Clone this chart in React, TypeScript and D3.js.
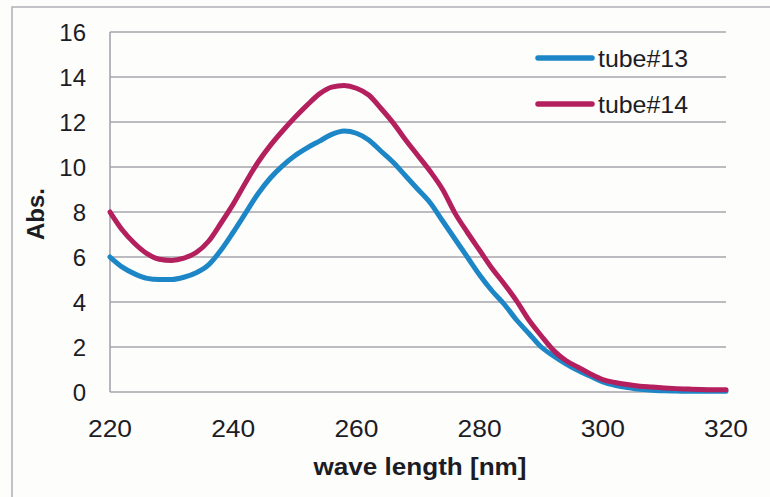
import React from "react";
import * as d3 from "d3";

// Wavelength grid (nm) and absorbance readings for each tube
const wavelengths = [
  220, 222, 224, 226, 228, 230, 232, 234, 236, 238, 240, 242, 244, 246, 248, 250,
  252, 254, 256, 258, 260, 262, 264, 266, 268, 270, 272, 274, 276, 278, 280, 282,
  284, 286, 288, 290, 292, 294, 296, 298, 300, 302, 304, 306, 308, 310, 312, 314,
  316, 318, 320,
];

const tube13 = [
  6.0, 5.55, 5.25, 5.05, 5.0, 5.0, 5.1, 5.3, 5.65, 6.3, 7.1, 7.95, 8.8, 9.5, 10.05, 10.5,
  10.85, 11.15, 11.45, 11.6, 11.5, 11.2, 10.7, 10.2, 9.6, 9.0, 8.4, 7.6, 6.8, 6.0, 5.2, 4.5,
  3.9, 3.2, 2.6, 2.0, 1.6, 1.25, 0.95, 0.7, 0.45, 0.3, 0.2, 0.12, 0.08, 0.05, 0.04, 0.03,
  0.03, 0.03, 0.03,
];

const tube14 = [
  8.0, 7.2, 6.6, 6.15, 5.9, 5.85, 5.95, 6.2, 6.7, 7.5, 8.35, 9.3, 10.2, 10.95, 11.6, 12.2,
  12.75, 13.25, 13.55, 13.62, 13.5, 13.2, 12.6, 11.95, 11.2, 10.5, 9.8, 9.0, 7.95, 7.1, 6.3, 5.5,
  4.8, 4.05, 3.2, 2.5, 1.85, 1.4, 1.1, 0.8, 0.55, 0.42, 0.33, 0.26, 0.22, 0.18, 0.15, 0.13,
  0.11, 0.1, 0.1,
];

const xTicks = [220, 240, 260, 280, 300, 320];
const yTicks = [0, 2, 4, 6, 8, 10, 12, 14, 16];

const seriesNames = ["tube#13", "tube#14"];
const seriesColors = ["#1d86c6", "#b41f5d"];

const W = 770;
const H = 497;
const plot = { left: 110, right: 726, top: 32, bottom: 392 };
const FONT = "'Liberation Sans', Arial, sans-serif";
const TEXT = "#1c1c24";

export default function App() {
  const x = d3.scaleLinear().domain([220, 320]).range([plot.left, plot.right]);
  const y = d3.scaleLinear().domain([0, 16]).range([plot.bottom, plot.top]);

  const line = d3
    .line<number>()
    .x((_, i) => x(wavelengths[i]))
    .y((d) => y(d))
    .curve(d3.curveMonotoneX);

  const series = [tube13, tube14];
  const gridColor = "#a4a4ac";

  return (
    <svg
      width={W}
      height={H}
      style={{ position: "absolute", left: 0, top: 0, background: "#fdfdfb" }}
    >
      {/* chart frame */}
      <rect x={12} y={7} width={820} height={520} fill="none" stroke="#b0b0b6" strokeWidth={1.5} />

      {/* horizontal gridlines */}
      {yTicks.map((t) => (
        <line
          key={t}
          x1={plot.left}
          x2={plot.right}
          y1={y(t)}
          y2={y(t)}
          stroke={gridColor}
          strokeWidth={1.6}
        />
      ))}
      {/* left axis */}
      <line x1={plot.left} x2={plot.left} y1={plot.top} y2={plot.bottom} stroke={gridColor} strokeWidth={1.6} />

      {/* y tick labels */}
      {yTicks.map((t) => (
        <text
          key={t}
          x={86}
          y={y(t)}
          dy="0.36em"
          textAnchor="end"
          fontFamily={FONT}
          fontSize={24}
          fill={TEXT}
        >
          {t}
        </text>
      ))}

      {/* x tick labels */}
      {xTicks.map((t) => (
        <text
          key={t}
          x={x(t)}
          y={437}
          textAnchor="middle"
          fontFamily={FONT}
          fontSize={24}
          textLength={44}
          lengthAdjust="spacingAndGlyphs"
          fill={TEXT}
        >
          {t}
        </text>
      ))}

      {/* axis titles */}
      <text
        x={420}
        y={475}
        textAnchor="middle"
        fontFamily={FONT}
        fontSize={24}
        fontWeight="bold"
        textLength={213}
        lengthAdjust="spacingAndGlyphs"
        fill={TEXT}
      >
        wave length [nm]
      </text>
      <text
        transform={`translate(44,214) rotate(-90)`}
        textAnchor="middle"
        fontFamily={FONT}
        fontSize={24}
        fontWeight="bold"
        fill={TEXT}
      >
        Abs.
      </text>

      {/* spectra */}
      {series.map((s, i) => (
        <path
          key={seriesNames[i]}
          d={line(s) ?? ""}
          fill="none"
          stroke={seriesColors[i]}
          strokeWidth={5}
          strokeLinejoin="round"
          strokeLinecap="round"
        />
      ))}

      {/* legend */}
      {seriesNames.map((name, i) => {
        const ly = 58 + i * 46;
        return (
          <g key={name}>
            <line
              x1={538}
              x2={592}
              y1={ly}
              y2={ly}
              stroke={seriesColors[i]}
              strokeWidth={5.5}
              strokeLinecap="round"
            />
            <text
              x={598}
              y={ly}
              dy="0.36em"
              fontFamily={FONT}
              fontSize={24}
              textLength={90}
              lengthAdjust="spacingAndGlyphs"
              fill={TEXT}
            >
              {name}
            </text>
          </g>
        );
      })}
    </svg>
  );
}
